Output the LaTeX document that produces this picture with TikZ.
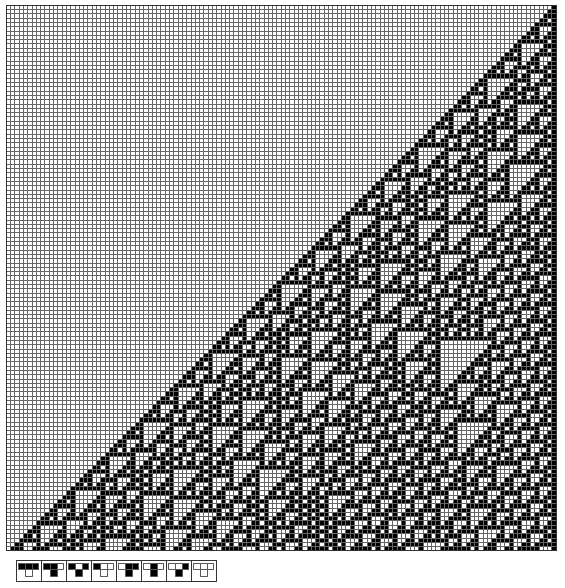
\documentclass[tikz,border=0pt]{standalone}

% rule 110 history: \ca@<row>@<col> is defined for every black cell
\newcount\carow \newcount\cacol \newcount\caidx
\def\cacols{128}\def\carows{127}
\def\caget#1#2{\ifcsname ca@\the\numexpr#1\relax @\the\numexpr#2\relax\endcsname 1\else 0\fi}
\def\caset{\expandafter\gdef\csname ca@\the\carow @\the\cacol\endcsname{}}
\def\castep{%
  \caidx=\numexpr 4*\caget{\carow-1}{\cacol-1}+2*\caget{\carow-1}{\cacol}+\caget{\carow-1}{\cacol+1}\relax
  \ifcase\caidx\or\caset\or\caset\or\caset\or\or\caset\or\caset\or\fi}
\expandafter\gdef\csname ca@0@127\endcsname{}
\carow=1
\loop
  {\cacol=0 \loop\castep\advance\cacol by 1 \ifnum\cacol<\cacols\relax\repeat}%
  \advance\carow by 1
\ifnum\carow<\carows\relax\repeat

\tikzset{
  cellon/.style={fill=black},
  meshline/.style={draw=black!60, line width=0.38pt},
  meshframe/.style={draw=black!80, line width=0.5pt},
  bit0/.style={fill=white},
  bit1/.style={fill=black},
  icell/.style={draw=black!65, line width=0.5pt},
  iframe/.style={draw=black!80, line width=0.6pt},
}

\begin{document}
\begin{tikzpicture}[x=0.75pt, y=-0.75pt, line join=round]
\useasboundingbox (0,0) rectangle (564,588);
% evolution from one black cell
\begin{scope}[shift={(6,5)}, x=3.2228pt, y=-3.2228pt]
  \carow=0
  \loop
    {\cacol=0 \loop
      \ifcsname ca@\the\carow @\the\cacol\endcsname \fill[cellon] (\the\cacol,\the\carow) rectangle ++(1,1);\fi
      \advance\cacol by 1 \ifnum\cacol<\cacols\relax\repeat}%
    \advance\carow by 1
  \ifnum\carow<\carows\relax\repeat
  \foreach \i in {0,...,128} \draw[meshline] (\i,0) -- (\i,127);
  \foreach \j in {0,...,127} \draw[meshline] (0,\j) -- (128,\j);
  \draw[meshframe] (0,0) rectangle (128,127);
\end{scope}
% rule icons
\foreach \a/\b/\c/\o [count=\k from 0] in {1/1/1/0,1/1/0/1,1/0/1/1,1/0/0/0,0/1/1/1,0/1/0/1,0/0/1/1,0/0/0/0} {
  \begin{scope}[shift={(16+25*\k,560)}]
    \draw[iframe] (0,0) rectangle (25,21);
    \draw[icell, bit\a] (2.5,3) rectangle ++(6.67,6.67);
    \draw[icell, bit\b] (9.17,3) rectangle ++(6.67,6.67);
    \draw[icell, bit\c] (15.84,3) rectangle ++(6.67,6.67);
    \draw[icell, bit\o] (9.17,9.67) rectangle ++(6.67,6.67);
  \end{scope}
}
\end{tikzpicture}
\end{document}
